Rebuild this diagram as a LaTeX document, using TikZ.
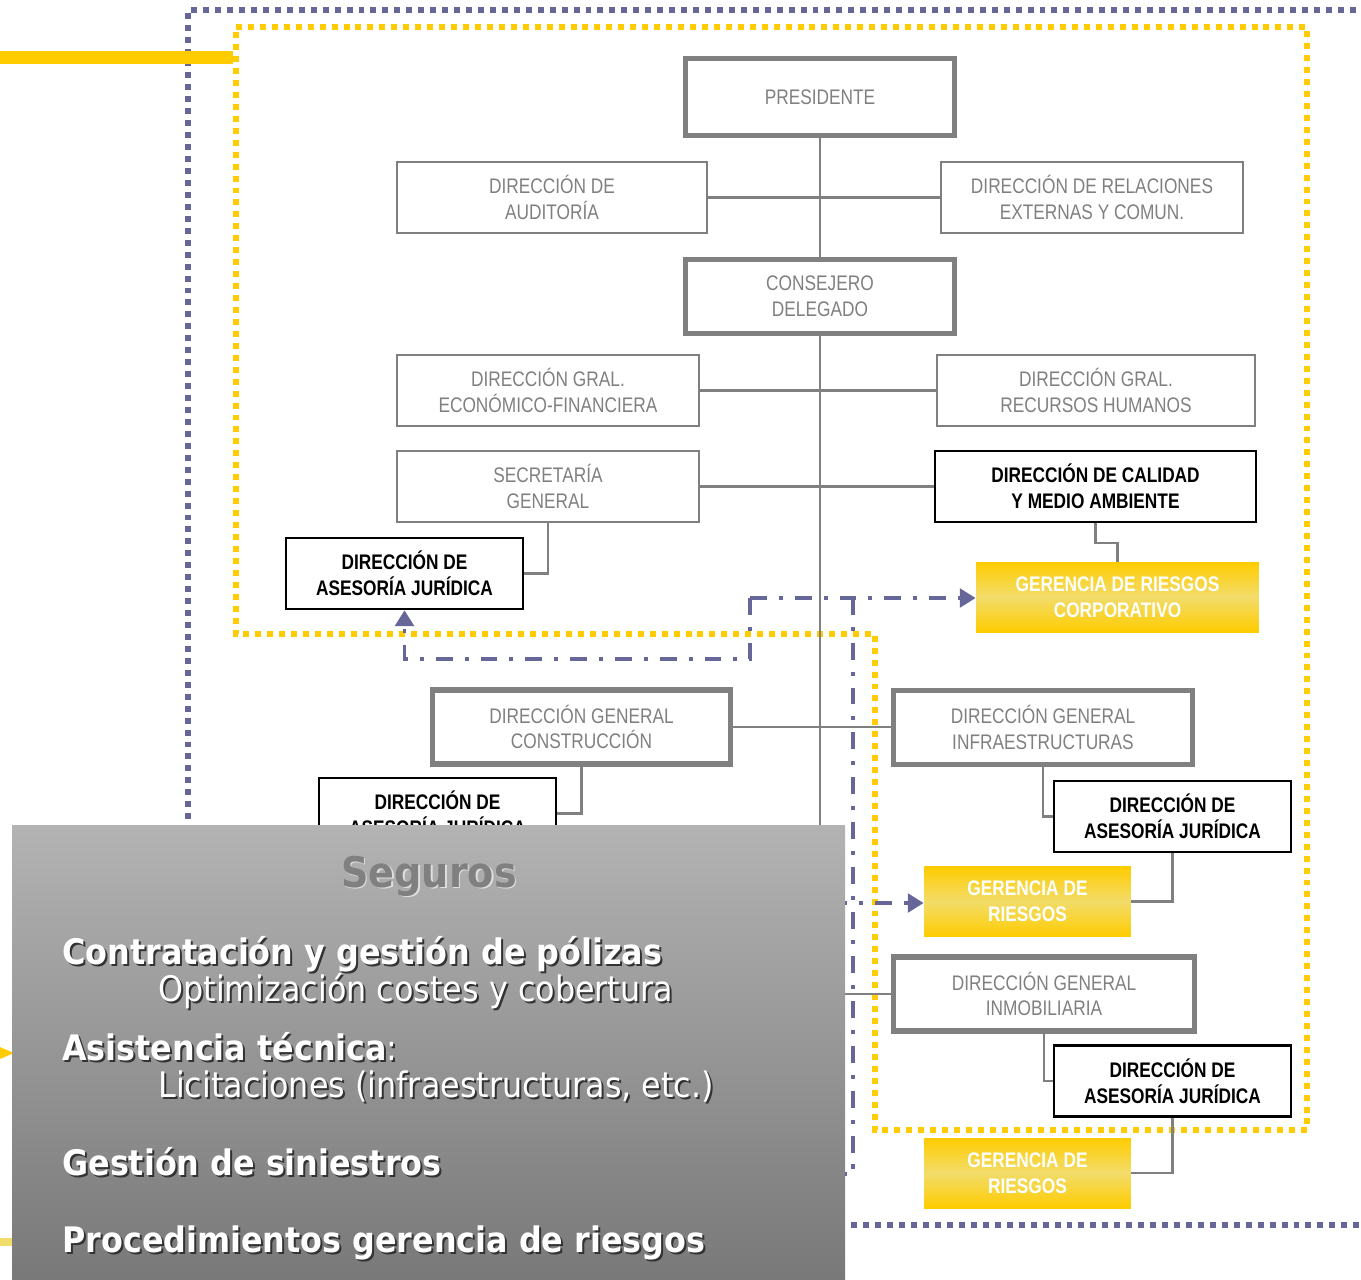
\documentclass[tikz,border=0pt]{standalone}
\usepackage{fontspec}
\newfontfamily\boxfont[FakeStretch=0.82]{Liberation Sans}
\newfontfamily\calloutfont[FakeStretch=0.905]{DejaVu Sans}
\usepackage{xcolor}
\usepackage{tikz}
\usetikzlibrary{arrows.meta,positioning,calc}
\definecolor{frameblue}{HTML}{666699}
\definecolor{gold}{HTML}{FFCC00}
\definecolor{palegold}{HTML}{F2DC6A}
\definecolor{orggray}{HTML}{808080}
\definecolor{paneltop}{HTML}{B3B3B3}
\definecolor{panelbottom}{HTML}{777777}
\newcommand\boxsize{\fontsize{12}{14.7}\selectfont}

\begin{document}
\begin{tikzpicture}[
    x=0.02cm, y=-0.02cm,
    every node/.style={font=\boxfont\boxsize, align=center, inner sep=0pt},
    unit/.style={draw=orggray, line width=1.2pt, text=orggray, fill=white, minimum height=1.42cm},
    headunit/.style={unit, line width=3.2pt, minimum height=1.48cm},
    legal/.style={draw=black, line width=1.4pt, fill=white, font=\boxfont\bfseries\boxsize, minimum width=4.74cm, minimum height=1.42cm},
    risk/.style={top color=gold, bottom color=gold, middle color=palegold, text=white, font=\boxfont\bfseries\boxsize, minimum height=1.4cm},
    link/.style={draw=orggray, line width=1.3pt},
    crossref/.style={draw=frameblue, line width=2.2pt, dash pattern=on 9.6pt off 6.8pt on 2.3pt off 6.8pt},
    tip/.style={-{Triangle[length=9pt, width=10.5pt]}},
    dotframe/.style={line width=3.4pt, dash pattern=on 3.4pt off 3.4pt},
    callout/.style={font=\calloutfont\fontsize{20}{24}\selectfont, text=white, anchor=base west, align=left},
  ]
  \clip (0,0) rectangle (1361,1279);

  % Frames
  \draw[dotframe, frameblue] (1380,10) -- (188,10) -- (188,1225) -- (1380,1225);
  \draw[dotframe, gold] (236,27) -- (1307,27) -- (1307,1130) -- (875,1130) -- (875,634) -- (236,634) -- cycle;
  \draw[gold, line width=7.4pt] (0,57) -- (233,57);

  % Top of the organisation
  \node[headunit, minimum width=5.38cm, minimum height=1.54cm] (pres) at (820,97) {PRESIDENTE};
  \node[unit, minimum width=6.2cm] (aud) at (552,197.5) {DIRECCIÓN DE\\AUDITORÍA};
  \node[unit, minimum width=6.04cm] (rel) at (1092,197.5) {DIRECCIÓN DE RELACIONES\\EXTERNAS Y COMUN.};
  \node[headunit, minimum width=5.38cm] (ceo) at (820,296.5) {CONSEJERO\\DELEGADO};
  \node[unit, minimum width=6.04cm] (eco) at (548,390.5) {DIRECCIÓN GRAL.\\ECONÓMICO-FINANCIERA};
  \node[unit, minimum width=6.36cm] (rrhh) at (1096,390.5) {DIRECCIÓN GRAL.\\RECURSOS HUMANOS};
  \node[unit, minimum width=6.04cm] (sec) at (548,486.5) {SECRETARÍA\\GENERAL};
  \node[legal, minimum width=6.42cm] (qual) at (1095.5,486.5) {DIRECCIÓN DE CALIDAD\\Y MEDIO AMBIENTE};
  \node[legal] (legal1) at (404.5,573.5) {DIRECCIÓN DE\\ASESORÍA JURÍDICA};
  \node[risk, minimum width=5.66cm] (riskcorp) at (1117.5,597) {GERENCIA DE RIESGOS\\CORPORATIVO};

  % Business areas
  \node[headunit, minimum width=5.96cm] (build) at (581.5,727) {DIRECCIÓN GENERAL\\CONSTRUCCIÓN};
  \node[headunit, minimum width=5.98cm] (infra) at (1043,727.5) {DIRECCIÓN GENERAL\\INFRAESTRUCTURAS};
  \node[legal] (legal2) at (437.5,813.5) {DIRECCIÓN DE\\ASESORÍA JURÍDICA};
  \node[legal] (legal3) at (1172.5,816.5) {DIRECCIÓN DE\\ASESORÍA JURÍDICA};
  \node[risk, minimum width=4.14cm] (risk1) at (1027.5,901.5) {GERENCIA DE\\RIESGOS};
  \node[headunit, minimum width=6.02cm] (estate) at (1044,994) {DIRECCIÓN GENERAL\\INMOBILIARIA};
  \node[legal] (legal4) at (1172.5,1081) {DIRECCIÓN DE\\ASESORÍA JURÍDICA};
  \node[risk, minimum width=4.14cm] (risk2) at (1027.5,1173) {GERENCIA DE\\RIESGOS};

  % Reporting lines
  \coordinate (spineend) at (820,994);
  \draw[link] (pres) -- (ceo);
  \draw[link] (ceo) -- (spineend) -- (estate.west);
  \draw[link] (aud) -- (rel);
  \draw[link] (eco) -- (rrhh);
  \draw[link] (sec) -- (qual);
  \draw[link] (build.east) -- (build.east -| infra.west);
  \draw[link] (sec.south) |- (legal1.east);
  \draw[link] (qual.south) -- ++(0,20) -| (riskcorp.north);
  \draw[link] (build.south) |- (legal2.east);
  \draw[link] (infra.south) |- (legal3.west);
  \draw[link] (legal3.south) |- (risk1.east);
  \draw[link] (estate.south) |- (legal4.west);
  \draw[link] (legal4.south) |- (risk2.east);

  % Risk coordination
  \coordinate (hub) at (750,598);
  \coordinate (drop) at (853,598);
  \coordinate (feed1) at (830,903);
  \coordinate (feed2) at (830,1174);
  \draw[crossref, tip] (hub) -- (riskcorp.west |- hub);
  \draw[crossref, tip] (hub) -- ++(0,61) -| (legal1.south);
  \draw[crossref] (drop) -- (853,1174) -- (feed2);
  \draw[crossref, tip] (feed1) -- (risk1.west |- feed1);

  % Feeds from the left
  \draw[gold, -{Triangle[length=12pt, width=10pt]}] (-30,1053) -- (14,1053);
  \draw[palegold, line width=4.5pt] (0,1242) -- (14,1242);

  % Callout panel
  \shade[top color=paneltop, bottom color=panelbottom] (12,825) rectangle (845,1290);
  \node[font=\calloutfont\bfseries\fontsize{24}{28}\selectfont, text=gray!25, anchor=base] (segshd) at (430.5,888.5) {Seguros};
  \node[font=\calloutfont\bfseries\fontsize{24}{28}\selectfont, text=orggray, anchor=base] (seg) at (429,887) {Seguros};
  \foreach \xpos/\ypos/\txt [count=\i] in {
      62/964/{\bfseries Contratación y gestión de pólizas},
      158/1001/{Optimización costes y cobertura},
      62/1060/{{\bfseries Asistencia técnica}:},
      158/1097/{Licitaciones (infraestructuras, etc.)},
      62/1175/{\bfseries Gestión de siniestros},
      62/1252/{\bfseries Procedimientos gerencia de riesgos}} {
    \node[callout, text=black!80] (shd\i) at (\xpos+2,\ypos+2) {\txt};
    \node[callout] (txt\i) at (\xpos,\ypos) {\txt};
  }

\end{tikzpicture}
\end{document}
